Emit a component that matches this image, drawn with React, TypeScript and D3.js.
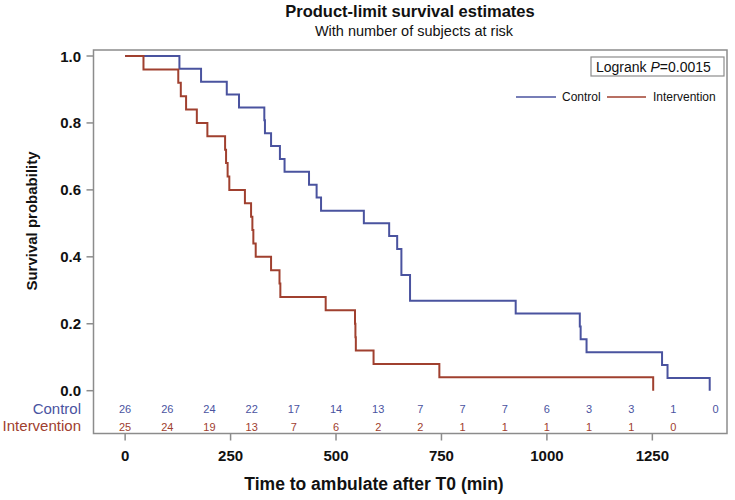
import React from "react";
import * as d3 from "d3";

// ---- Data ----
const controlTimes = [0, 128.7, 180, 241, 270, 330, 331.5, 346, 367, 378, 436, 454, 464.5, 566, 626, 645, 655, 675.5, 926, 1078, 1080, 1094, 1273, 1286, 1386];
const controlSurv = [1.0, 0.962, 0.923, 0.885, 0.846, 0.808, 0.769, 0.731, 0.692, 0.654, 0.615, 0.577, 0.538, 0.5, 0.462, 0.423, 0.346, 0.269, 0.231, 0.192, 0.154, 0.115, 0.077, 0.038, 0.0];

const interventionTimes = [0, 43.5, 126, 132, 144.5, 170, 195, 237, 239.3, 243, 247, 284, 298.6, 301.7, 304, 309.6, 346, 366, 368, 475.5, 545, 546, 547, 589, 745, 1252];
const interventionSurv = [1.0, 0.96, 0.92, 0.88, 0.84, 0.8, 0.76, 0.72, 0.68, 0.64, 0.6, 0.56, 0.52, 0.48, 0.44, 0.4, 0.36, 0.32, 0.28, 0.24, 0.2, 0.16, 0.12, 0.08, 0.04, 0.0];

const atRiskTimes = [0, 100, 200, 300, 400, 500, 600, 700, 800, 900, 1000, 1100, 1200, 1300, 1400];
const controlAtRisk = [26, 26, 24, 22, 17, 14, 13, 7, 7, 7, 6, 3, 3, 1, 0];
const interventionAtRisk = [25, 24, 19, 13, 7, 6, 2, 2, 1, 1, 1, 1, 1, 0];

const xTicks = [0, 250, 500, 750, 1000, 1250];
const yTicks = [0, 0.2, 0.4, 0.6, 0.8, 1.0];

const seriesNames = ["Control", "Intervention"];
const titleText = "Product-limit survival estimates";
const subtitleText = "With number of subjects at risk";
const xTitle = "Time to ambulate after T0 (min)";
const yTitle = "Survival probability";

// ---- Styles ----
const BLUE = "#4a539f";
const RED = "#a0402f";
const FRAME = "#8c8c8c";
const FONT = "'Liberation Sans', Arial, Helvetica, sans-serif";

export default function App() {
  const W = 735, H = 500;
  const frame = { left: 93.5, right: 727, top: 50, bottom: 433.5 };
  const x = d3.scaleLinear().domain([-75, 1427]).range([frame.left, frame.right]);
  const y = d3.scaleLinear().domain([0, 1]).range([390.7, 56]);

  const line = d3
    .line<[number, number]>()
    .x((d) => x(d[0]))
    .y((d) => y(d[1]))
    .curve(d3.curveStepAfter);

  const controlPts: [number, number][] = controlTimes.map((t, i) => [t, controlSurv[i]]);
  const interPts: [number, number][] = interventionTimes.map((t, i) => [t, interventionSurv[i]]);

  return (
    <div style={{ position: "fixed", left: 0, top: 0 }}>
      <svg width={W} height={H} style={{ display: "block", background: "#fff" }} fontFamily={FONT}>
        {/* Titles */}
        <text x={410} y={16.5} textAnchor="middle" fontSize={16.5} fontWeight="bold" fill="#111">
          {titleText}
        </text>
        <text x={414} y={36} textAnchor="middle" fontSize={14.5} fill="#111">
          {subtitleText}
        </text>

        {/* Frame */}
        <rect
          x={frame.left}
          y={frame.top}
          width={frame.right - frame.left}
          height={frame.bottom - frame.top}
          fill="none"
          stroke={FRAME}
          strokeWidth={1.5}
        />

        {/* Y axis ticks */}
        {yTicks.map((v) => (
          <g key={"y" + v}>
            <line x1={frame.left - 7} x2={frame.left} y1={y(v)} y2={y(v)} stroke={FRAME} strokeWidth={1.5} />
            <text x={81} y={y(v) + 5.5} textAnchor="end" fontSize={15} fontWeight="bold" fill="#111">
              {v.toFixed(1)}
            </text>
          </g>
        ))}
        <text
          transform={`translate(37,221) rotate(-90)`}
          textAnchor="middle"
          fontSize={15}
          fontWeight="bold"
          fill="#111"
        >
          {yTitle}
        </text>

        {/* X axis ticks */}
        {xTicks.map((v) => (
          <g key={"x" + v}>
            <line x1={x(v)} x2={x(v)} y1={frame.bottom} y2={frame.bottom + 7} stroke={FRAME} strokeWidth={1.5} />
            <text x={x(v)} y={461} textAnchor="middle" fontSize={15} fontWeight="bold" fill="#111">
              {v}
            </text>
          </g>
        ))}
        <text x={374} y={490} textAnchor="middle" fontSize={17.5} fontWeight="bold" fill="#111">
          {xTitle}
        </text>

        {/* Curves */}
        <path d={line(controlPts) || ""} fill="none" stroke={BLUE} strokeWidth={2} />
        <path d={line(interPts) || ""} fill="none" stroke={RED} strokeWidth={2} />

        {/* Logrank box */}
        <rect x={591} y={57} width={133} height={19} fill="#fff" stroke={FRAME} strokeWidth={1.2} />
        <text x={596} y={72} fontSize={14} fill="#111">
          Logrank <tspan fontStyle="italic">P</tspan>=0.0015
        </text>

        {/* Legend */}
        <line x1={516} x2={556} y1={97} y2={97} stroke={BLUE} strokeWidth={1.5} />
        <text x={562} y={101} fontSize={12} fill="#111">
          {seriesNames[0]}
        </text>
        <line x1={607} x2={646} y1={97} y2={97} stroke={RED} strokeWidth={1.5} />
        <text x={653} y={101} fontSize={12} fill="#111">
          {seriesNames[1]}
        </text>

        {/* At-risk table */}
        <text x={81} y={414} textAnchor="end" fontSize={15} fill={BLUE}>
          {seriesNames[0]}
        </text>
        <text x={81} y={431} textAnchor="end" fontSize={15} fill={RED}>
          {seriesNames[1]}
        </text>
        {controlAtRisk.map((n, i) => (
          <text key={"c" + i} x={x(atRiskTimes[i])} y={412.5} textAnchor="middle" fontSize={11} fill={BLUE}>
            {n}
          </text>
        ))}
        {interventionAtRisk.map((n, i) => (
          <text key={"r" + i} x={x(atRiskTimes[i])} y={431} textAnchor="middle" fontSize={11} fill={RED}>
            {n}
          </text>
        ))}
      </svg>
    </div>
  );
}
